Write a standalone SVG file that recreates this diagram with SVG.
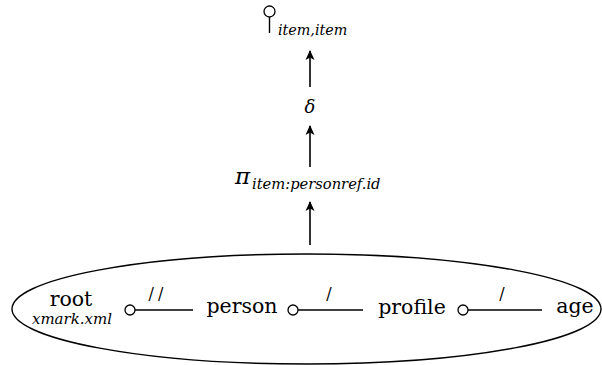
<svg xmlns="http://www.w3.org/2000/svg" width="602" height="365" viewBox="0 0 602 365">
<style>
text{font-family:"DejaVu Serif",serif;fill:#000}
.lbl{font-size:20.5px}
.it{font-style:italic}
.sl{font-size:16px}
.edge{stroke:#000;stroke-width:1.4;fill:none}
.port{stroke:#000;stroke-width:1.3;fill:#fff}
.arr{stroke:#000;stroke-width:1.6;fill:none}
</style>
<defs>
<marker id="ah" viewBox="0 0 10 10" refX="9" refY="5" markerWidth="10" markerHeight="10" markerUnits="userSpaceOnUse" orient="auto">
<path d="M0,0.5 L10,5 L0,9.5 L2.5,5 Z" fill="#000"/>
</marker>
</defs>
<rect width="602" height="365" fill="#fff"/>
<g id="serialize">
<circle cx="269.5" cy="11.5" r="5.5" class="port"/>
<line x1="269.5" y1="17" x2="269.5" y2="33" class="edge"/>
<text x="278" y="35" class="it" font-size="14.3">item,item</text>
</g>
<g id="distinct">
<text x="310" y="113" class="it" font-size="18" text-anchor="middle">δ</text>
</g>
<g id="project">
<text x="235" y="184" class="it" font-size="23">π</text>
<text x="252" y="189" class="it" font-size="14.7">item:personref.id</text>
</g>
<g id="pathstep">
<ellipse cx="306.5" cy="309" rx="294.5" ry="55" class="edge"/>
<text x="71" y="306" class="lbl" text-anchor="middle">root</text>
<text x="72" y="324" class="it" font-size="15" text-anchor="middle">xmark.xml</text>
<text x="242" y="313" class="lbl" text-anchor="middle">person</text>
<text x="412" y="314" class="lbl" text-anchor="middle">profile</text>
<text x="575" y="313" class="lbl" text-anchor="middle">age</text>
</g>
<g id="connectors">
<line x1="310" y1="87" x2="310" y2="51" class="arr" marker-end="url(#ah)"/>
<line x1="310" y1="167" x2="310" y2="126" class="arr" marker-end="url(#ah)"/>
<line x1="310" y1="245" x2="310" y2="202" class="arr" marker-end="url(#ah)"/>
<line x1="135" y1="310" x2="193" y2="310" class="edge"/>
<circle cx="130" cy="310" r="5" class="port"/>
<text x="158" y="299" class="sl" text-anchor="middle" letter-spacing="4">//</text>
<line x1="298" y1="310" x2="363" y2="310" class="edge"/>
<circle cx="293" cy="310" r="5" class="port"/>
<text x="329" y="299" class="sl" text-anchor="middle">/</text>
<line x1="468" y1="310" x2="542" y2="310" class="edge"/>
<circle cx="463" cy="310" r="5" class="port"/>
<text x="502" y="299" class="sl" text-anchor="middle">/</text>
</g>
</svg>
